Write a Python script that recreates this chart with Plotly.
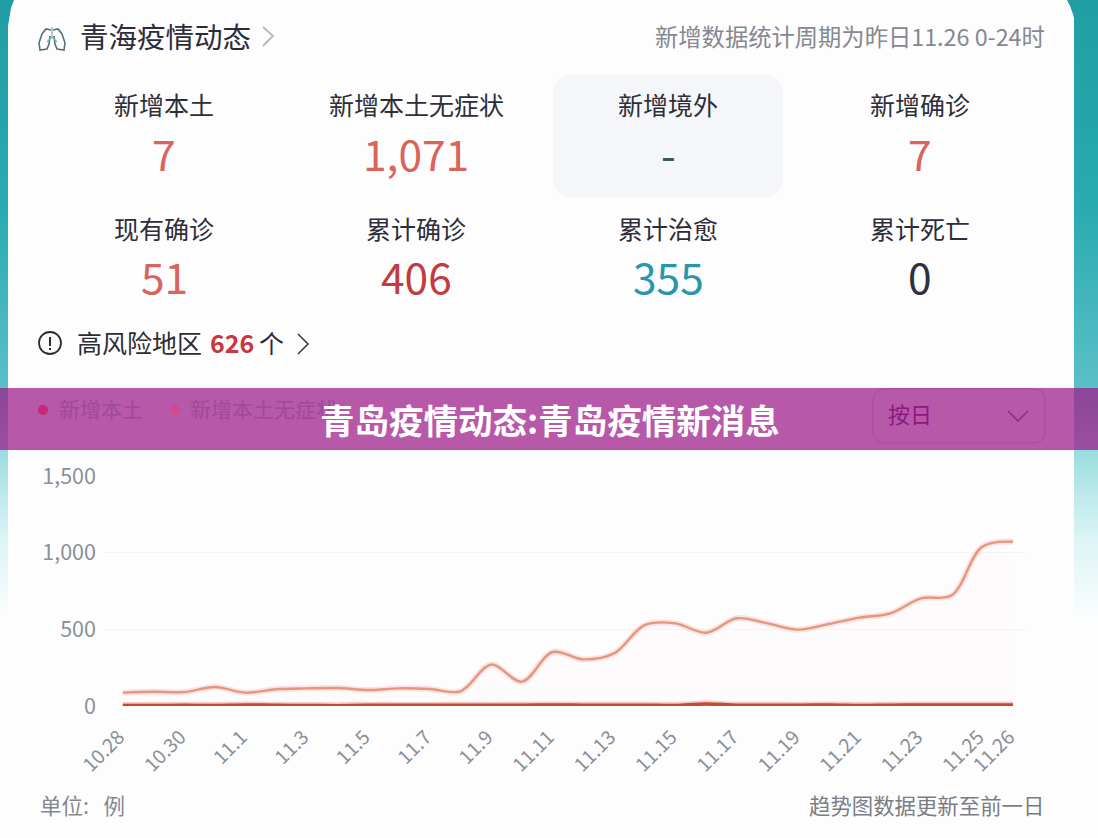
import plotly.graph_objects as go

# ---- chart data ----
dates = ["10.28", "10.29", "10.30", "10.31", "11.1", "11.2", "11.3", "11.4", "11.5", "11.6",
         "11.7", "11.8", "11.9", "11.10", "11.11", "11.12", "11.13", "11.14", "11.15", "11.16",
         "11.17", "11.18", "11.19", "11.20", "11.21", "11.22", "11.23", "11.24", "11.25", "11.26"]
local_cases = [3, 3, 4, 3, 7, 4, 3, 2, 4, 4, 4, 5, 4, 5, 6, 5, 5, 5, 3, 13, 5, 5, 4, 7, 3, 5, 6, 6, 7, 7]
asymptomatic = [87, 93, 91, 124, 87, 109, 115, 117, 104, 115, 111, 96, 270, 159, 352, 304, 343,
                528, 539, 478, 572, 539, 498, 535, 576, 604, 702, 722, 1039, 1071]
x_ticks = ["10.28", "10.30", "11.1", "11.3", "11.5", "11.7", "11.9", "11.11", "11.13", "11.15",
           "11.17", "11.19", "11.21", "11.23", "11.25", "11.26"]
y_ticks = [0, 500, 1000, 1500]
y_tick_labels = ["0", "500", "1,000", "1,500"]

# ---- summary panel contents ----
stat_columns = [164, 416, 668, 920]
stat_rows = [
    (104, 152, ["新增本土", "新增本土无症状", "新增境外", "新增确诊"],
     ["7", "1,071", "-", "7"], ["#d9645a", "#d9645a", "#3a5566", "#d9645a"]),
    (228, 276, ["现有确诊", "累计确诊", "累计治愈", "累计死亡"],
     ["51", "406", "355", "0"], ["#d9645a", "#c23b3f", "#2a96ac", "#2c3040"]),
]

W, H = 1098, 838
CJK = "Noto Sans CJK SC"


def px(x, y):
    return x / W, 1 - y / H


def path(points, close=False):
    parts = []
    for i, (x, y) in enumerate(points):
        fx, fy = px(x, y)
        parts.append(f"{'M' if i == 0 else 'L'}{fx:.5f},{fy:.5f}")
    return " ".join(parts) + (" Z" if close else "")


def box(x0, y0, x1, y1, **kw):
    a, b = px(x0, y0)
    c, d = px(x1, y1)
    return dict(type="rect", xref="paper", yref="paper", x0=a, y0=b, x1=c, y1=d, **kw)


def rounded(x0, y0, x1, y1, r):
    a0, b0 = px(x0, y0)
    a1, b1 = px(x1, y1)
    rx, ry = r / W, r / H
    return (f"M{a0 + rx:.5f},{b0:.5f} L{a1 - rx:.5f},{b0:.5f} Q{a1:.5f},{b0:.5f} {a1:.5f},{b0 - ry:.5f} "
            f"L{a1:.5f},{b1 + ry:.5f} Q{a1:.5f},{b1:.5f} {a1 - rx:.5f},{b1:.5f} "
            f"L{a0 + rx:.5f},{b1:.5f} Q{a0:.5f},{b1:.5f} {a0:.5f},{b1 + ry:.5f} "
            f"L{a0:.5f},{b0 - ry:.5f} Q{a0:.5f},{b0:.5f} {a0 + rx:.5f},{b0:.5f} Z")


def label(text, x, y, size, color, anchor="center", family=CJK, weight=None):
    fx, fy = px(x, y)
    font = dict(size=size, color=color, family=family)
    if weight:
        font["weight"] = weight
    return dict(text=text, x=fx, y=fy, xref="paper", yref="paper", showarrow=False,
                xanchor=anchor, yanchor="middle", font=font)


def strip_color(y):
    stops = [(0, (32, 158, 163)), (200, (40, 170, 176)), (390, (92, 192, 200)), (460, (165, 224, 226)),
             (540, (222, 245, 246)), (620, (253, 253, 254))]
    for (y0, c0), (y1, c1) in zip(stops, stops[1:]):
        if y <= y1:
            t = (y - y0) / (y1 - y0)
            return "rgb(%d,%d,%d)" % tuple(round(a + (b - a) * t) for a, b in zip(c0, c1))
    return "rgb(253,253,254)"


shapes = []
# teal side strips fading out downwards; each band overlaps the next to avoid seams
for y in range(0, 620, 4):
    col = strip_color(y)
    for xa, xb in ((0, 8), (1074, 1098)):
        shapes.append(box(xa, y, xb, y + 8, fillcolor=col, line_width=0, layer="below"))
# rounded top corners of the card
shapes.append(dict(type="path", xref="paper", yref="paper", layer="below", fillcolor=strip_color(0), line_width=0,
                   path=path([(7, 0), (14, 0), (11, 8), (8, 26), (7, 26)], True)))
shapes.append(dict(type="path", xref="paper", yref="paper", layer="below", fillcolor=strip_color(0), line_width=0,
                   path=path([(1067, 0), (1075, 0), (1075, 22), (1073, 14), (1070, 6)], True)))
# highlighted stat cell
shapes.append(dict(type="path", xref="paper", yref="paper", layer="below", fillcolor="#f5f6f9", line_width=0,
                   path=rounded(553, 75, 783, 197, 20)))


def stroke(points, color, width=1.6):
    shapes.append(dict(type="path", xref="paper", yref="paper", path=path(points),
                       line=dict(color=color, width=width)))


# lung icon
stroke([(51, 30), (46, 29), (42, 34), (39, 43), (40, 50), (47, 49), (49, 44), (50, 36)], "#55707c")
stroke([(53, 30), (58, 29), (62, 34), (65, 43), (64, 50), (57, 49), (55, 44), (54, 36)], "#55707c")
stroke([(52, 27), (52, 37), (47, 42)], "#7fb0b8", 1.2)
stroke([(52, 37), (57, 42)], "#7fb0b8", 1.2)
# chevrons
stroke([(263, 27), (273, 36), (263, 46)], "#b4b8be", 1.8)
stroke([(298, 334), (308, 344), (298, 354)], "#3c3f48", 1.6)
# info icon
a, b = px(39, 332)
c, d = px(61, 354)
shapes.append(dict(type="circle", xref="paper", yref="paper", x0=a, y0=b, x1=c, y1=d,
                   line=dict(color="#2c2c34", width=1.8)))
stroke([(50, 337), (50, 346)], "#2c2c34", 2)
stroke([(50, 348), (50, 350)], "#2c2c34", 2)

# translucent headline band, with its controls on top
shapes.append(box(0, 388, W, 450, fillcolor="rgba(157,23,135,0.72)", line_width=0))
for cx, col in ((43, "#c8287c"), (175, "#d04a90")):
    a, b = px(cx - 5, 405)
    c, d = px(cx + 5, 415)
    shapes.append(dict(type="circle", xref="paper", yref="paper", x0=a, y0=b, x1=c, y1=d,
                       fillcolor=col, line_width=0))
shapes.append(dict(type="path", xref="paper", yref="paper", path=rounded(873, 389, 1045, 443, 12),
                   line=dict(color="#aa4a9e", width=1)))
stroke([(1008, 411), (1018, 421), (1028, 411)], "#8f2a88", 1.5)

annotations = [
    label("青海疫情动态", 78, 35, 28.5, "#2b2b3a", "left"),
    label("新增数据统计周期为昨日11.26 0-24时", 1047, 36, 23.3, "#85888f", "right"),
    label("高风险地区", 75, 342, 25, "#2c2c34", "left"),
    label("626", 208, 342, 25, "#c8383c", "left", weight="bold"),
    label("个", 257, 342, 25, "#2c2c34", "left"),
    label("新增本土", 57, 408, 21, "#a0489a", "left"),
    label("新增本土无症状", 188, 408, 21, "#a0489a", "left"),
    label("按日", 886, 413, 22, "#8a1a80", "left"),
    label("单位:   例", 38, 804, 21.5, "#85888f", "left"),
    label("趋势图数据更新至前一日", 1046, 804, 21.4, "#7a7d85", "right"),
]
for row_label_y, row_value_y, names, values, colors in stat_rows:
    for cx, name, value, color in zip(stat_columns, names, values, colors):
        annotations.append(label(name, cx, row_label_y, 25, "#2e2e38"))
        annotations.append(label(value, cx, row_value_y, 42.5, color))
annotations.append(label("青岛疫情动态:青岛疫情新消息", 550, 419, 34.5, "#ffffff", weight="bold"))

fig = go.Figure()
# soft halo under each line, then the line itself
fig.add_trace(go.Scatter(x=dates, y=asymptomatic, mode="lines", hoverinfo="skip", fill="tozeroy", cliponaxis=False,
                         fillcolor="rgba(230,130,140,0.016)",
                         line=dict(color="rgba(236,160,140,0.25)", width=6, shape="spline", smoothing=1)))
fig.add_trace(go.Scatter(x=dates, y=asymptomatic, mode="lines", name="新增本土无症状", cliponaxis=False,
                         line=dict(color="#e8957f", width=2.4, shape="spline", smoothing=1)))
fig.add_trace(go.Scatter(x=dates, y=local_cases, mode="lines", hoverinfo="skip", cliponaxis=False,
                         line=dict(color="rgba(226,120,90,0.35)", width=7, shape="spline", smoothing=1)))
fig.add_trace(go.Scatter(x=dates, y=local_cases, mode="lines", name="新增本土", cliponaxis=False,
                         line=dict(color="#c4492f", width=3.6, shape="spline", smoothing=1)))

fig.update_layout(
    width=W, height=H, autosize=False,
    margin=dict(l=0, r=0, t=0, b=0),
    paper_bgcolor="#fdfdfe", plot_bgcolor="rgba(0,0,0,0)",
    showlegend=False, shapes=shapes, annotations=annotations,
    font=dict(family=CJK),
    xaxis=dict(type="category", domain=[105 / W, 1025 / W], range=[-0.58, 29.39], automargin=False,
               categoryorder="array", categoryarray=dates,
               tickmode="array", tickvals=x_ticks, ticktext=x_ticks, tickangle=-45,
               ticks="", ticklabelstandoff=15, ticklabelshift=-4, showgrid=False, zeroline=False, showline=False,
               tickfont=dict(size=19.5, color="#8a8f99", family=CJK)),
    yaxis=dict(domain=[1 - 706 / H, 1 - 476 / H], range=[0, 1500], automargin=False,
               tickmode="array", tickvals=y_ticks, ticktext=y_tick_labels,
               ticks="", ticklabelstandoff=8, gridcolor="#f3f4f6", gridwidth=1, zeroline=False,
               showline=False, tickfont=dict(size=21.5, color="#8a8f99", family=CJK)),
)

fig.write_html("out.html", config=dict(displayModeBar=False))
